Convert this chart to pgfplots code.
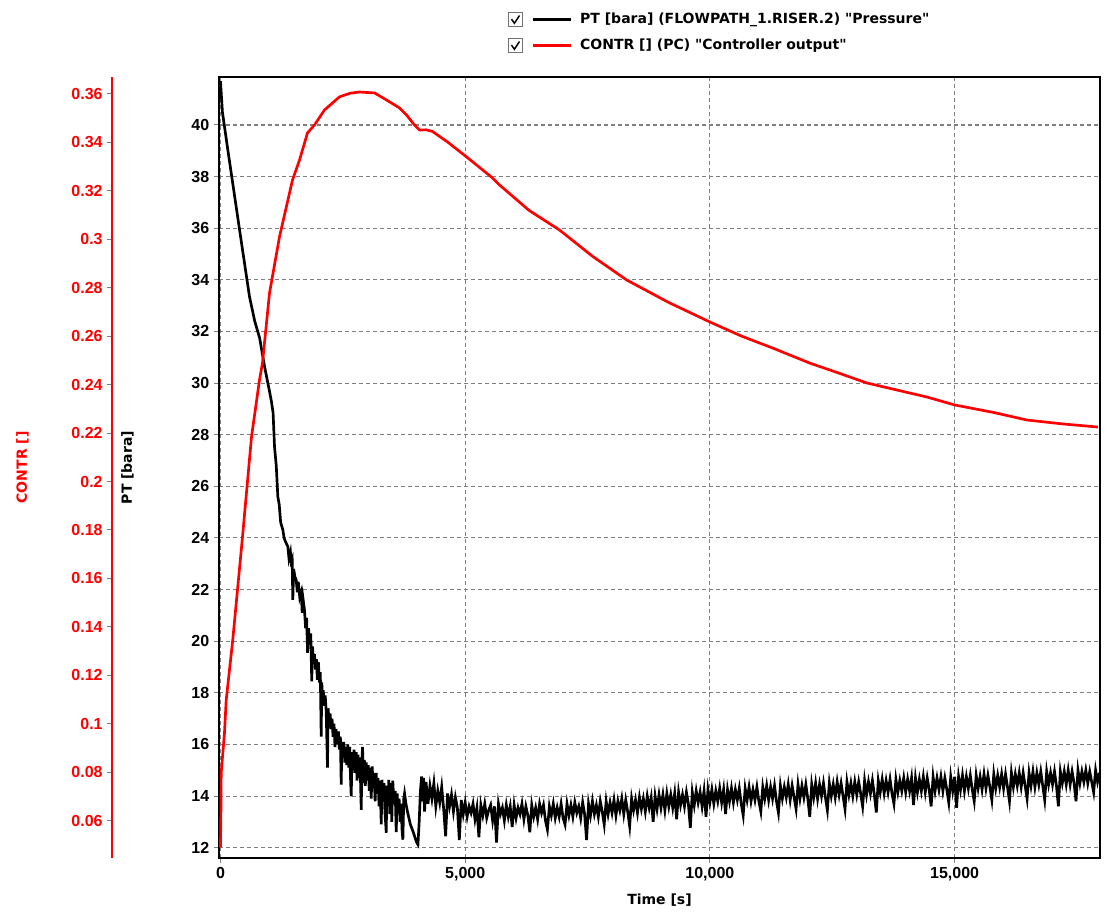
\documentclass[border=0pt]{standalone}
\usepackage{pgfplots}
\pgfplotsset{compat=1.18}
\usepackage{pgfplotstable}
\usepackage{fontspec}
\setmainfont{Liberation Sans}
\newfontfamily\lblfont{DejaVu Sans}
\definecolor{gridgray}{RGB}{128,128,128}
\definecolor{cred}{RGB}{255,0,0}

\pgfplotstableread{
t p
0 41.70
40 40.50
150 39.04
390 35.94
593 33.35
700 32.40
800 31.75
900 30.65
1000 29.70
1040 29.30
1075 28.85
1104 27.55
1140 26.80
1172 25.60
1200 25.30
1230 24.60
1274 24.32
1300 24.00
1330 23.85
1376 23.67
1400 23.20
1430 23.45
1445 23.10
1465 23.20
1478 21.60
1495 22.80
1520 22.50
1547 22.38
1570 21.90
1590 22.30
1620 21.70
1650 21.90
1670 21.10
1690 21.60
1717 21.20
1740 20.50
1760 20.90
1780 19.55
1800 20.50
1820 19.90
1845 20.30
1865 18.44
1880 19.80
1900 19.20
1921 19.50
1940 18.90
1960 19.30
1980 18.50
2000 19.20
2023 18.40
2040 18.80
2058 16.30
2070 18.40
2085 17.80
2100 18.10
2120 17.50
2140 17.90
2160 17.30
2187 15.10
2200 17.40
2220 16.80
2240 17.20
2262 16.60
2280 17.00
2300 16.30
2320 16.80
2340 15.90
2360 16.60
2392 16.00
2410 16.50
2430 15.80
2450 16.30
2467 14.44
2480 16.10
2500 15.50
2520 16.10
2540 15.30
2560 15.90
2580 15.20
2600 16.00
2620 15.10
2640 15.90
2655 14.80
2671 13.99
2690 15.70
2710 15.00
2730 15.80
2750 14.90
2774 15.70
2790 14.60
2810 15.60
2830 14.70
2850 15.50
2876 13.47
2890 15.40
2903 15.90
2920 14.50
2940 15.40
2960 14.40
2978 15.30
3000 14.60
3020 15.20
3040 14.20
3060 15.10
3080 13.90
3100 15.15
3120 14.30
3140 14.90
3160 13.80
3182 14.90
3200 14.10
3220 14.70
3240 13.60
3260 14.60
3285 12.90
3300 14.63
3320 13.80
3340 14.50
3360 13.40
3387 12.58
3400 14.40
3420 13.60
3440 14.63
3460 13.30
3480 14.50
3500 13.00
3520 14.60
3545 13.70
3570 14.20
3591 12.60
3610 14.10
3630 13.40
3650 13.90
3670 13.00
3690 13.70
3710 12.70
3727 12.31
3745 13.90
3761 14.10
3790 13.70
3820 13.40
3850 13.15
3880 12.90
3910 12.75
3940 12.60
3965 12.45
3990 12.30
4015 12.18
4035 12.12
4060 13.00
4085 14.20
4110 14.76
4130 13.80
4150 14.70
4170 13.40
4200 14.55
4240 13.70
4280 14.40
4320 13.90
4360 14.50
4400 13.60
4440 14.20
4480 13.75
4520 14.35
4560 13.50
4600 12.44
4640 14.10
4680 13.60
4720 14.05
4760 13.40
4800 13.95
4840 13.55
4880 12.30
4920 13.85
4960 13.30
5000 13.75
5040 13.20
5080 13.60
5120 13.35
5160 13.70
5200 13.10
5240 13.55
5280 12.40
5320 13.65
5360 13.25
5400 13.70
5440 13.15
5480 13.45
5520 13.65
5560 13.05
5600 13.60
5640 12.20
5680 13.70
5720 13.30
5760 13.55
5800 13.05
5840 13.65
5880 13.20
5920 13.60
5960 12.80
6000 13.65
6040 13.15
6080 13.55
6120 13.30
6160 13.70
6200 13.10
6240 13.60
6280 13.25
6320 12.60
6360 13.65
6400 13.20
6440 13.55
6480 13.10
6520 13.70
6560 13.35
6600 13.65
6640 13.05
6680 12.70
6720 13.60
6760 13.25
6800 13.70
6840 13.15
6880 13.55
6920 13.20
6960 13.70
7000 13.15
7040 12.90
7080 13.70
7120 13.25
7160 13.65
7200 13.20
7240 13.75
7280 13.35
7320 13.60
7360 13.15
7400 13.75
7440 13.30
7480 12.30
7520 13.70
7560 13.25
7600 13.80
7640 13.30
7680 13.65
7720 13.20
7760 13.80
7800 13.40
7840 12.90
7880 13.80
7920 13.30
7960 13.75
8000 13.35
8040 13.85
8080 13.25
8120 13.80
8160 13.45
8200 13.90
8240 13.30
8280 13.85
8320 13.40
8360 12.83
8400 13.90
8440 13.45
8480 13.85
8520 13.35
8560 13.95
8600 13.50
8640 13.90
8680 13.40
8720 14.00
8760 13.55
8800 13.95
8840 13.00
8880 14.00
8920 13.50
8960 14.05
9000 13.55
9040 14.05
9080 13.45
9120 14.10
9160 13.60
9200 14.05
9240 13.55
9280 14.10
9320 13.10
9360 14.15
9400 13.65
9440 14.05
9480 13.60
9520 14.15
9560 13.70
9600 12.77
9640 14.15
9680 13.65
9720 14.20
9760 13.75
9800 14.15
9840 13.60
9880 14.20
9920 13.20
9960 14.25
10000 13.75
10040 14.25
10080 13.70
10120 14.20
10160 13.80
10200 14.30
10240 13.75
10280 14.25
10320 13.30
10360 14.25
10400 13.80
10440 14.30
10480 13.75
10520 14.25
10560 13.85
10600 14.30
10640 13.70
10680 13.25
10720 14.30
10760 13.85
10800 14.35
10840 13.80
10880 14.25
10920 13.85
10960 14.35
11000 13.80
11040 13.40
11080 14.35
11120 13.90
11160 14.40
11200 13.85
11240 14.35
11280 13.90
11320 14.40
11360 13.80
11400 13.35
11440 14.40
11480 13.90
11520 14.35
11560 13.95
11600 14.45
11640 13.85
11680 14.40
11720 13.95
11760 13.50
11800 14.45
11840 13.90
11880 14.40
11920 13.95
11960 14.45
12000 13.90
12040 13.20
12080 14.45
12120 13.95
12160 14.50
12200 13.90
12240 14.45
12280 14.00
12320 14.50
12360 13.95
12400 13.45
12440 14.50
12480 14.00
12520 14.45
12560 13.95
12600 14.55
12640 14.05
12680 14.50
12720 14.00
12760 13.50
12800 14.55
12840 14.05
12880 14.50
12920 14.00
12960 14.55
13000 14.05
13040 14.55
13080 14.10
13120 13.60
13160 14.60
13200 14.05
13240 14.55
13280 14.10
13320 14.60
13360 14.05
13400 13.36
13440 14.60
13480 14.15
13520 14.65
13560 14.10
13600 14.60
13640 14.15
13680 14.65
13720 14.10
13760 13.70
13800 14.65
13840 14.15
13880 14.60
13920 14.20
13960 14.70
14000 14.15
14040 14.65
14080 14.20
14120 14.70
14160 13.65
14200 14.70
14240 14.15
14280 14.65
14320 14.20
14360 14.75
14400 14.15
14440 14.70
14480 14.25
14520 13.60
14560 14.75
14600 14.20
14640 14.70
14680 14.25
14720 14.75
14760 14.20
14800 14.70
14840 14.25
14880 13.75
14920 14.75
14960 14.20
15000 14.75
15040 13.55
15080 14.75
15120 14.25
15160 14.80
15200 14.20
15240 14.75
15280 14.30
15320 14.80
15360 14.25
15400 13.80
15440 14.80
15480 14.30
15520 14.75
15560 14.25
15600 14.85
15640 14.30
15680 14.80
15720 14.35
15760 13.85
15800 14.85
15840 14.30
15880 14.80
15920 14.35
15960 14.85
16000 14.30
16040 14.85
16080 14.35
16120 13.80
16160 14.90
16200 14.35
16240 14.85
16280 14.40
16320 14.90
16360 14.35
16400 14.90
16440 14.40
16480 13.90
16520 14.90
16560 14.40
16600 14.95
16640 14.35
16680 14.90
16720 14.45
16760 14.95
16800 14.40
16840 13.85
16880 14.95
16920 14.45
16960 14.90
17000 14.45
17040 14.95
17080 14.40
17120 13.60
17160 14.95
17200 14.50
17240 14.95
17280 14.45
17320 15.00
17360 14.45
17400 14.95
17440 14.50
17480 13.80
17520 15.00
17560 14.50
17600 14.95
17640 14.55
17680 15.00
17720 14.50
17760 14.95
17800 14.55
17840 14.15
17880 15.00
17920 14.55
17960 14.90
}\ptdata

\pgfplotstableread{
t c
0 0.0490
10 0.0650
15 0.0797
82 0.0962
117 0.1098
251 0.1346
450 0.1771
634 0.2184
797 0.2419
858 0.2489
1002 0.2778
1206 0.3010
1472 0.3245
1615 0.3327
1778 0.3439
1921 0.3472
2126 0.3534
2432 0.3588
2650 0.3603
2841 0.3608
3148 0.3604
3393 0.3575
3659 0.3542
3802 0.3513
3950 0.3475
4068 0.3451
4200 0.3452
4333 0.3445
4650 0.3400
5028 0.3340
5560 0.3253
5703 0.3224
6300 0.3120
6929 0.3038
7600 0.2930
8299 0.2832
9150 0.2740
9995 0.2659
10650 0.2600
11283 0.2551
12040 0.2489
12600 0.2450
13204 0.2407
14431 0.2349
15003 0.2316
15800 0.2285
16475 0.2254
17200 0.2238
17926 0.2225
}\contrdata

\begin{document}
\begin{tikzpicture}[font=\bfseries]
\useasboundingbox (-164.25pt,-41.25pt) rectangle (667.5pt,643.5pt);
\begin{axis}[
  at={(0pt,0pt)}, anchor=south west,
  width=660.75pt, height=585.75pt, scale only axis,
  xmin=-30, xmax=17970, ymin=11.60, ymax=41.86,
  xtick={0,5000,10000,15000},
  ytick={12,14,16,18,20,22,24,26,28,30,32,34,36,38,40},
  xtick pos=bottom, ytick pos=left,
  tick align=outside, major tick length=3.75pt,
  tick style={gridgray, line width=0.75pt},
  grid=major,
  major grid style={gridgray, line width=0.8pt, dash pattern=on 3pt off 2.25pt},
  axis line style={black, line width=1.5pt},
  /pgf/number format/assume math mode=true,
  /pgf/number format/1000 sep={,},
  scaled x ticks=false, scaled y ticks=false,
  tick label style={font=\fontsize{12}{14}\selectfont\bfseries, black},
  xlabel={Time [s]}, ylabel={PT [bara]},
  label style={font=\fontsize{10.5}{12}\selectfont\lblfont\bfseries},
  xlabel style={at={(axis description cs:0.5,-0.0538)}, anchor=center},
  ylabel style={at={(axis description cs:-0.1038,0.5)}, anchor=center},
  legend image code/.code={
    \draw[black!55, line width=0.75pt, solid, fill=white] (-18pt,-5pt) rectangle (-8pt,5pt);
    \draw[black, line width=1.1pt, solid] (-16pt,0.3pt) -- (-13.8pt,-2.8pt) -- (-10pt,3pt);
    \draw[#1] (0pt,0pt) -- (28.5pt,0pt);
  },
  legend style={at={(axis description cs:0.3281,1.0854)}, anchor=north west,
    draw=none, fill=none, inner sep=0pt, row sep=6pt,
    font=\fontsize{10.5}{12}\selectfont\lblfont\bfseries,
    /tikz/every odd column/.append style={column sep=4pt}},
  legend cell align=left,
]
\addplot[black, line width=2pt] table[x=t, y=p] {\ptdata};
\addlegendentry{PT [bara] (FLOWPATH\_1.RISER.2) "Pressure"}
\addlegendimage{cred, line width=2pt}
\addlegendentry{CONTR [] (PC) "Controller output"}
\end{axis}
\begin{axis}[
  at={(-80pt,0pt)}, anchor=south west,
  width=740.75pt, height=585.75pt, scale only axis,
  xmin=-2209.3, xmax=17970, ymin=0.0446, ymax=0.367,
  axis x line=none, axis y line*=left,
  y axis line style={cred, line width=1.5pt, -},
  ytick={0.06,0.08,0.1,0.12,0.14,0.16,0.18,0.2,0.22,0.24,0.26,0.28,0.3,0.32,0.34,0.36},
  tick align=outside, major tick length=3.75pt,
  tick style={gridgray, line width=0.75pt},
  /pgf/number format/assume math mode=true,
  /pgf/number format/fixed, /pgf/number format/precision=2,
  scaled y ticks=false,
  yticklabel style={font=\fontsize{12}{14}\selectfont\bfseries, cred},
  ylabel={CONTR []},
  ylabel style={at={(axis description cs:-0.0909,0.5)}, anchor=center, cred,
    font=\fontsize{10.5}{12}\selectfont\lblfont\bfseries},
]
\addplot[cred, line width=2pt] table[x=t, y=c] {\contrdata};
\end{axis}
\end{tikzpicture}
\end{document}
